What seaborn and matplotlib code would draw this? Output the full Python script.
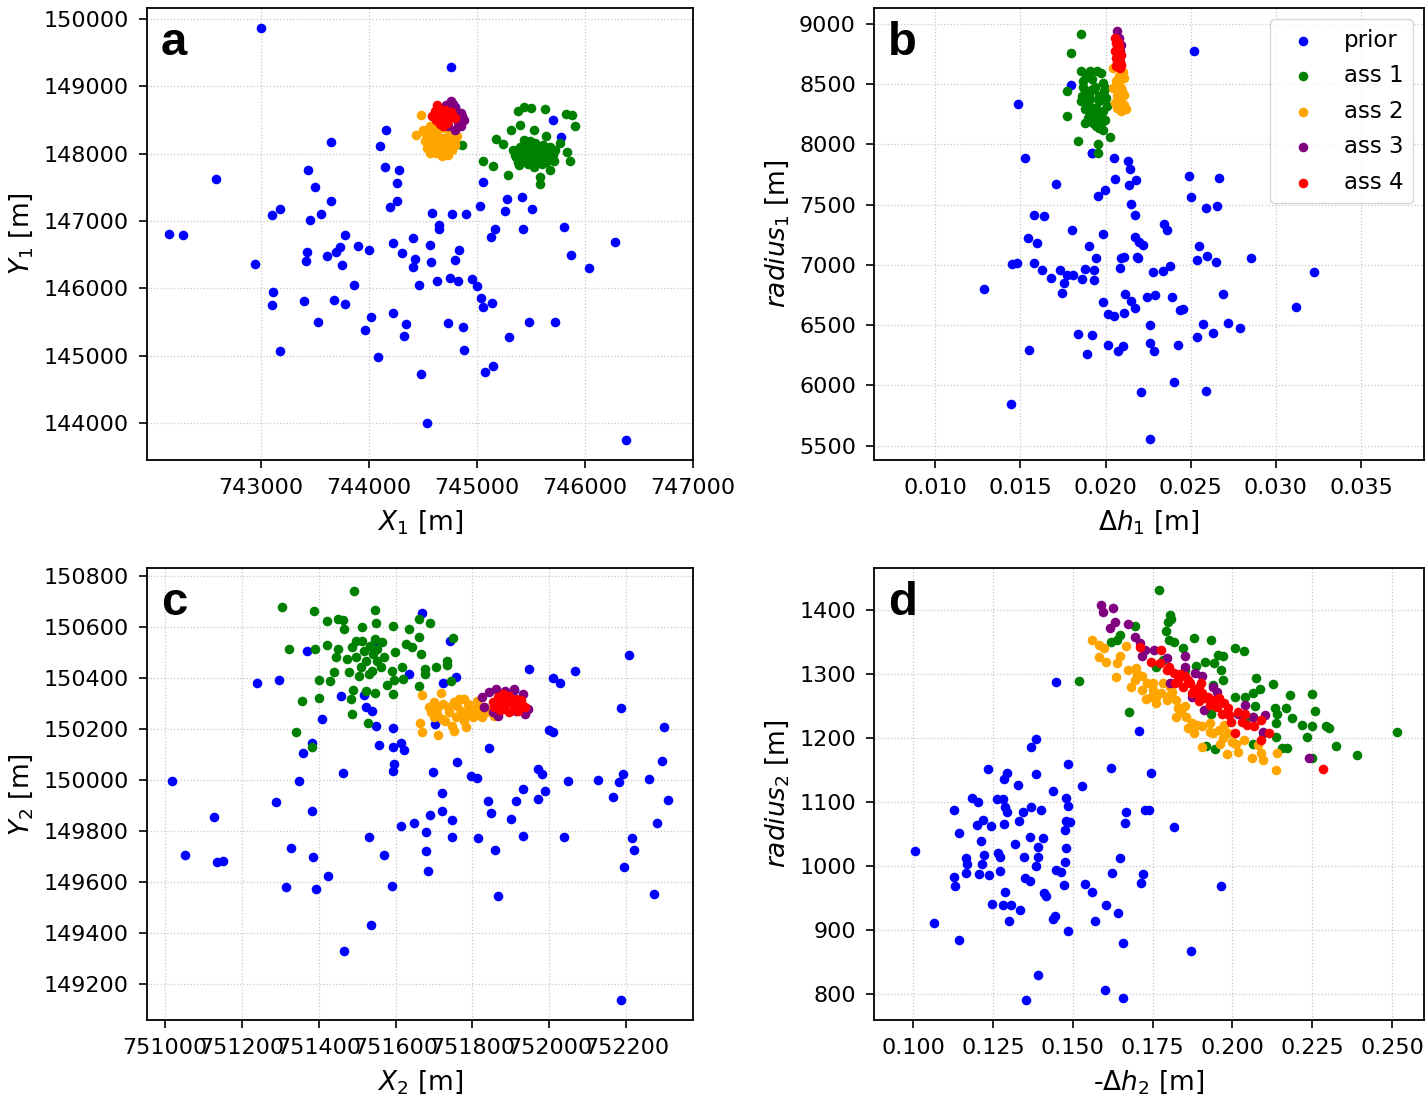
import matplotlib
matplotlib.use("Agg")
import matplotlib.pyplot as plt
import matplotlib.ticker as mticker
import seaborn as sns

# ---- data (x, y) ----
series_names = ['prior', 'ass 1', 'ass 2', 'ass 3', 'ass 4']
series_colors = ['blue', 'green', 'orange', 'purple', 'red']

# panel a : X1 / Y1
a_prior = [
    (743000, 149862), (744762, 149278), (742584, 147617), (742152, 146812), (742274, 146787),
    (742941, 146357), (743099, 147093), (743175, 147173), (743112, 145951), (743106, 145754),
    (743175, 145077), (743439, 147751), (743502, 147509), (743644, 147296), (743650, 148176),
    (743554, 147108), (743455, 147019), (743782, 146792), (743733, 146609), (743693, 146540),
    (743611, 146476), (743422, 146540), (743416, 146406), (743749, 146352), (743898, 146634),
    (743997, 146564), (743865, 146050), (743399, 145808), (743677, 145828), (743776, 145774),
    (743525, 145502), (744020, 145571), (743964, 145383), (744083, 144978), (744158, 148354),
    (744099, 148117), (744152, 147800), (744281, 147751), (744261, 147563), (744261, 147296),
    (744198, 147207), (744224, 146678), (744304, 146530), (744409, 146743), (744422, 146441),
    (744409, 146322), (744459, 146050), (744561, 146639), (744578, 146396), (744584, 147118),
    (744650, 146935), (744650, 146880), (744769, 147103), (744898, 147108), (744832, 146569),
    (744795, 146416), (744634, 146110), (744752, 146159), (744828, 146105), (744957, 146134),
    (744997, 146040), (745033, 145863), (745056, 145729), (745135, 145778), (744221, 145640),
    (744340, 145477), (744323, 145299), (744729, 145492), (744871, 145423), (744884, 145086),
    (744482, 144731), (744541, 144009), (745076, 144755), (745145, 144844), (745300, 145284),
    (745485, 145502), (745726, 145502), (746040, 146302), (746277, 146693), (745871, 146500),
    (745805, 146910), (745426, 146886), (745132, 146762), (745168, 146881), (745261, 147152),
    (745281, 147330), (745416, 147350), (745512, 147173), (745026, 147227), (745056, 147573),
    (745706, 148502), (745779, 148245), (746383, 143752), (744792, 148685),
]
a_ass1 = [
    (745380, 148626), (745439, 148690), (745502, 148675), (745627, 148665), (745822, 148591),
    (745878, 148566), (745904, 148413), (745399, 148428), (745314, 148349), (745531, 148349),
    (745178, 148210), (745244, 148141), (745640, 148260), (745769, 148161), (745832, 148028),
    (745861, 147884), (745716, 147894), (745677, 147761), (745581, 147652), (745584, 147548),
    (745287, 147687), (745145, 147815), (745056, 147894), (744865, 148122),
    (745330, 148050), (745360, 147950), (745400, 148100), (745420, 147900), (745440, 148200),
    (745450, 148000), (745470, 147850), (745480, 148120), (745500, 147950), (745510, 148050),
    (745530, 147800), (745540, 148150), (745560, 147900), (745570, 148000), (745590, 148080),
    (745600, 147850), (745620, 147950), (745640, 148030), (745660, 147900), (745680, 148100),
    (745700, 147980), (745720, 148050), (745380, 147880), (745420, 148020), (745460, 147950),
    (745490, 148180), (745520, 147880), (745550, 148060), (745580, 147940), (745610, 148120),
    (745650, 148000), (745350, 147980), (745390, 147830), (745430, 148080), (745470, 148050),
    (745520, 148000), (745560, 147970), (745600, 148020), (745640, 147880), (745690, 147920),
]
a_ass2 = [
    (744485, 148576), (744436, 148270), (744677, 147958), (744535, 148082), (744502, 148354),
    (744568, 148403), (744634, 148329), (744700, 148379), (744766, 148305), (744815, 148255),
    (744551, 148230), (744617, 148181), (744683, 148230), (744749, 148156), (744799, 148132),
    (744584, 148082), (744650, 148057), (744716, 148082), (744766, 148057), (744617, 148008),
    (744683, 148008), (744568, 148008), (744518, 148181), (744733, 147983), (744799, 148206),
    (744601, 148305), (744560, 148130), (744640, 148250), (744700, 148130), (744760, 148200),
    (744600, 148380), (744520, 148300), (744660, 148100), (744740, 148260),
]
a_ass3 = [
    (744759, 148774), (744716, 148725), (744799, 148675), (744848, 148601), (744881, 148502),
    (744848, 148403), (744799, 148354), (744733, 148403), (744766, 148552), (744683, 148675),
    (744820, 148450), (744860, 148560), (744740, 148700), (744780, 148730),
]
a_ass4 = [
    (744634, 148725), (744607, 148626), (744584, 148552), (744667, 148651), (744716, 148601),
    (744766, 148576), (744799, 148527), (744733, 148502), (744667, 148478), (744617, 148502),
    (744683, 148403), (744700, 148552), (744650, 148576), (744640, 148620), (744690, 148520),
    (744740, 148540), (744700, 148640), (744620, 148560), (744660, 148440), (744720, 148460),
    (744760, 148620),
]

# panel b : dh1 / radius1
b_prior = [
    (0.02520, 8779), (0.01486, 8337), (0.01797, 8497), (0.01528, 7890), (0.01708, 7671),
    (0.01920, 7926), (0.02050, 7890), (0.02132, 7862), (0.02144, 7796), (0.02058, 7716),
    (0.02136, 7663), (0.02180, 7707), (0.01994, 7625), (0.01958, 7569), (0.02151, 7503),
    (0.02172, 7412), (0.02492, 7738), (0.02503, 7567), (0.02666, 7721), (0.02591, 7475),
    (0.02654, 7486), (0.01581, 7415), (0.01639, 7406), (0.01801, 7290), (0.01983, 7260),
    (0.01543, 7221), (0.01595, 7183), (0.01905, 7155), (0.01945, 7056), (0.02172, 7232),
    (0.02197, 7194), (0.02220, 7166), (0.02092, 7061), (0.02107, 7067), (0.02186, 7067),
    (0.02188, 7056), (0.02344, 7343), (0.02360, 7288), (0.02549, 7155), (0.02534, 7039),
    (0.02597, 7078), (0.02650, 7022), (0.02853, 7061), (0.03226, 6945), (0.01453, 7011),
    (0.01482, 7017), (0.01579, 7017), (0.01627, 6962), (0.01734, 6962), (0.01677, 6893),
    (0.01771, 6915), (0.01807, 6917), (0.01755, 6854), (0.01859, 6882), (0.01880, 6970),
    (0.01929, 6956), (0.01931, 6873), (0.02082, 6973), (0.02277, 6945), (0.02335, 6951),
    (0.02377, 6995), (0.01285, 6799), (0.01742, 6771), (0.01983, 6691), (0.02111, 6763),
    (0.02151, 6697), (0.02172, 6641), (0.02012, 6589), (0.02050, 6578), (0.02109, 6600),
    (0.02241, 6738), (0.02291, 6749), (0.02392, 6738), (0.02436, 6625), (0.02457, 6633),
    (0.02691, 6763), (0.03119, 6652), (0.01836, 6431), (0.01920, 6420), (0.01549, 6296),
    (0.01893, 6260), (0.02017, 6340), (0.02071, 6285), (0.02105, 6324), (0.02258, 6503),
    (0.02258, 6351), (0.02287, 6288), (0.02427, 6340), (0.02574, 6514), (0.02536, 6404),
    (0.02633, 6437), (0.02721, 6522), (0.02788, 6478), (0.01444, 5843), (0.02207, 5945),
    (0.02400, 6028), (0.02587, 5954), (0.02258, 5556), (0.01920, 7926),
]
b_ass1 = [
    (0.01857, 8917), (0.01799, 8760), (0.01773, 8442), (0.01776, 8240), (0.01840, 8028),
    (0.01956, 8000), (0.01956, 7926), (0.02025, 8061), (0.01857, 8608), (0.01910, 8608),
    (0.01952, 8613), (0.01973, 8594), (0.01868, 8525), (0.01920, 8539), (0.01983, 8511),
    (0.01878, 8442), (0.01931, 8456), (0.01994, 8470), (0.01857, 8359), (0.01910, 8373),
    (0.01962, 8359), (0.02004, 8387), (0.01878, 8290), (0.01931, 8304), (0.01983, 8276),
    (0.01899, 8221), (0.01952, 8235), (0.01994, 8207), (0.01962, 8138), (0.01983, 8124),
    (0.01941, 8152), (0.01973, 8180), (0.01895, 8331), (0.02006, 8318), (0.01885, 8560),
    (0.01940, 8480), (0.01900, 8420), (0.01960, 8400), (0.01920, 8260), (0.01880, 8180),
    (0.01870, 8480), (0.01915, 8450), (0.01990, 8440), (0.01905, 8280), (0.01945, 8300),
    (0.01975, 8240), (0.01925, 8180), (0.01860, 8400),
]
b_ass2 = [
    (0.02046, 8635), (0.02088, 8663), (0.02109, 8553), (0.02077, 8497), (0.02046, 8470),
    (0.02098, 8442), (0.02067, 8401), (0.02088, 8359), (0.02109, 8331), (0.02067, 8304),
    (0.02119, 8290), (0.02088, 8276), (0.02056, 8345), (0.02109, 8414), (0.02077, 8566),
    (0.02100, 8600), (0.02060, 8530), (0.02090, 8470),
]
b_ass3 = [
    (0.02067, 8945), (0.02077, 8884), (0.02088, 8829), (0.02084, 8774),
]
b_ass4 = [
    (0.02056, 8884), (0.02063, 8843), (0.02067, 8801), (0.02071, 8760), (0.02077, 8718),
    (0.02067, 8677), (0.02082, 8635), (0.02088, 8746), (0.02056, 8774), (0.02073, 8829),
    (0.02088, 8663), (0.02063, 8718), (0.02070, 8850), (0.02080, 8790), (0.02075, 8700),
    (0.02060, 8650), (0.02085, 8690), (0.02078, 8810),
]

# panel c : X2 / Y2
c_prior = [
    (751018, 149996), (751054, 149706), (751129, 149858), (751136, 149680), (751152, 149684),
    (751241, 150380), (751296, 150393), (751290, 149916), (751328, 149735), (751315, 149581),
    (751369, 150508), (751349, 149996), (751360, 150107), (751382, 150146), (751382, 149879),
    (751386, 149698), (751394, 149575), (751410, 150241), (751424, 149624), (751459, 150332),
    (751463, 150030), (751467, 149330), (751518, 150333), (751522, 150286), (751538, 150273),
    (751530, 149777), (751537, 149432), (751550, 150212), (751557, 150139), (751544, 150535),
    (751571, 149707), (751594, 150204), (751594, 150129), (751614, 150148), (751623, 150119),
    (751597, 150064), (751594, 150035), (751592, 149586), (751614, 149820), (751635, 150417),
    (751647, 149831), (751668, 150655), (751678, 149796), (751678, 149724), (751685, 149646),
    (751690, 149863), (751698, 150033), (751702, 150221), (751720, 149952), (751722, 149881),
    (751723, 150382), (751741, 150548), (751746, 149779), (751748, 149845), (751757, 150407),
    (751760, 150072), (751797, 150016), (751811, 150011), (751814, 149775), (751841, 149918),
    (751842, 150128), (751848, 149873), (751859, 149727), (751867, 149548), (751901, 149847),
    (751913, 149918), (751930, 149965), (751930, 149782), (751908, 150356), (751948, 150437),
    (751969, 150046), (751981, 150025), (751969, 149926), (751988, 149957), (752000, 150197),
    (752009, 150188), (752009, 150401), (752028, 150383), (752037, 149778), (752048, 149997),
    (752067, 150429), (752126, 150003), (752164, 149935), (752180, 149994), (752191, 150024),
    (752187, 150285), (752206, 150493), (752215, 149775), (752220, 149726), (752193, 149659),
    (752260, 150004), (752280, 149834), (752293, 150076), (752298, 150211), (752309, 149922),
    (752272, 149556), (752186, 149139),
]
c_ass1 = [
    (751493, 150741), (751305, 150681), (751387, 150665), (751546, 150668), (751423, 150626),
    (751450, 150633), (751464, 150629), (751690, 150616), (751660, 150633), (751594, 150607),
    (751636, 150593), (751466, 150593), (751514, 150603), (751548, 150616), (751750, 150558),
    (751661, 150563), (751323, 150515), (751391, 150516), (751422, 150532), (751450, 150515),
    (751626, 150535), (751643, 150524), (751666, 150495), (751599, 150502), (751444, 150482),
    (751473, 150476), (751496, 150482), (751735, 150469), (751735, 150451), (751706, 150446),
    (751677, 150437), (751677, 150417), (751616, 150443), (751590, 150430), (751441, 150424),
    (751479, 150426), (751505, 150410), (751532, 150417), (751620, 150397), (751595, 150393),
    (751744, 150391), (751661, 150371), (751577, 150375), (751402, 150393), (751429, 150391),
    (751489, 150354), (751522, 150352), (751546, 150341), (751594, 150339), (751402, 150325),
    (751357, 150310), (751484, 150319), (751486, 150260), (751528, 150225), (751341, 150188),
    (751384, 150129), (751514, 150548), (751533, 150528), (751551, 150515), (751565, 150541),
    (751542, 150495), (751524, 150469), (751510, 150443), (751496, 150548), (751487, 150522),
    (751551, 150469), (751561, 150443), (751538, 150430), (751519, 150508), (751570, 150482),
    (751547, 150554),
]
c_ass2 = [
    (751670, 150336), (751719, 150344), (751663, 150226), (751668, 150188), (751711, 150179),
    (751751, 150195), (751783, 150208), (751700, 150306), (751686, 150286), (751709, 150260),
    (751737, 150286), (751765, 150319), (751788, 150299), (751811, 150286), (751834, 150267),
    (751857, 150254), (751728, 150234), (751756, 150247), (751779, 150234), (751802, 150247),
    (751700, 150247), (751746, 150215), (751769, 150273), (751797, 150267), (751825, 150247),
    (751723, 150299), (751751, 150306), (751779, 150319), (751811, 150312), (751830, 150286),
    (751709, 150280), (751691, 150267), (751740, 150270), (751760, 150290), (751790, 150280),
    (751820, 150270), (751720, 150240), (751780, 150250), (751845, 150275),
]
c_ass3 = [
    (751825, 150326), (751843, 150345), (751862, 150358), (751885, 150352), (751908, 150358),
    (751931, 150339), (751945, 150280), (751936, 150260), (751913, 150273), (751867, 150254),
    (751829, 150286), (751853, 150267),
]
c_ass4 = [
    (751853, 150306), (751867, 150326), (751880, 150339), (751894, 150332), (751913, 150319),
    (751927, 150306), (751936, 150286), (751918, 150273), (751894, 150267), (751871, 150276),
    (751857, 150286), (751885, 150299), (751904, 150299), (751922, 150293), (751875, 150315),
    (751900, 150315), (751925, 150315), (751880, 150280), (751910, 150282), (751865, 150300),
]

# panel d : -dh2 / radius2
d_prior = [
    (0.10045, 1024), (0.10660, 912), (0.11443, 885), (0.11286, 1087), (0.11432, 1051),
    (0.11275, 983), (0.11320, 969), (0.11644, 1013), (0.11678, 1003), (0.11656, 989),
    (0.11846, 1106), (0.12013, 1100), (0.11991, 1064), (0.12192, 1072), (0.12427, 1063),
    (0.12114, 1039), (0.12215, 1017), (0.12148, 1004), (0.12047, 988), (0.12360, 986),
    (0.12327, 1152), (0.12830, 1136), (0.12931, 1146), (0.13266, 1127), (0.12629, 1104),
    (0.12819, 1104), (0.12886, 1093), (0.12920, 1085), (0.12841, 1066), (0.13300, 1071),
    (0.13434, 1084), (0.12651, 1020), (0.12707, 1014), (0.13188, 1034), (0.12707, 993),
    (0.12886, 959), (0.13468, 1014), (0.12461, 941), (0.12819, 940), (0.13076, 940),
    (0.13334, 932), (0.13009, 914), (0.13501, 981), (0.13658, 977), (0.13647, 1045),
    (0.13703, 1093), (0.13859, 1144), (0.13848, 1199), (0.13691, 1186), (0.14005, 1088),
    (0.14072, 1044), (0.13915, 1030), (0.13904, 1015), (0.13859, 1000), (0.14105, 958),
    (0.14150, 954), (0.13915, 830), (0.13546, 791), (0.14385, 1117), (0.14463, 1287),
    (0.14788, 1107), (0.14833, 1094), (0.14788, 1071), (0.14922, 1069), (0.14754, 1057),
    (0.14788, 1028), (0.14754, 1006), (0.14474, 994), (0.14642, 991), (0.14731, 970),
    (0.14441, 922), (0.14385, 918), (0.14844, 899), (0.14855, 1159), (0.15280, 1125),
    (0.15381, 972), (0.15593, 959), (0.15705, 914), (0.16040, 939), (0.16398, 927),
    (0.16466, 1013), (0.16219, 989), (0.16208, 1153), (0.16667, 1084), (0.16633, 1067),
    (0.16577, 880), (0.16018, 807), (0.16566, 794), (0.17126, 974), (0.17193, 988),
    (0.17249, 1088), (0.17372, 1088), (0.17439, 1145), (0.17070, 1211), (0.18166, 1061),
    (0.18703, 867), (0.19631, 969),
]
d_ass1 = [
    (0.17696, 1431), (0.18032, 1392), (0.17964, 1380), (0.18088, 1385), (0.17920, 1366),
    (0.17998, 1353), (0.18166, 1350), (0.16935, 1374), (0.16488, 1361), (0.16376, 1353),
    (0.16208, 1350), (0.18434, 1340), (0.18792, 1356), (0.19318, 1353), (0.20067, 1340),
    (0.20347, 1335), (0.19542, 1330), (0.19710, 1327), (0.19430, 1317), (0.19150, 1319),
    (0.18870, 1312), (0.19654, 1306), (0.19710, 1291), (0.19374, 1283), (0.15201, 1289),
    (0.16757, 1240), (0.20739, 1293), (0.21276, 1284), (0.20873, 1276), (0.20627, 1270),
    (0.20381, 1264), (0.20067, 1264), (0.21802, 1267), (0.22484, 1268), (0.22585, 1242),
    (0.20716, 1249), (0.21320, 1247), (0.21689, 1246), (0.21410, 1238), (0.21354, 1223),
    (0.21857, 1231), (0.22193, 1220), (0.22495, 1218), (0.22327, 1201), (0.22920, 1219),
    (0.23032, 1215), (0.23256, 1187), (0.23905, 1173), (0.25157, 1209), (0.21365, 1202),
    (0.21555, 1184), (0.21701, 1185), (0.20627, 1191), (0.19172, 1187), (0.19452, 1182),
    (0.22506, 1168), (0.20962, 1207), (0.20627, 1233), (0.20403, 1228), (0.19340, 1238),
    (0.17607, 1311), (0.17830, 1322), (0.18501, 1306),
]
d_ass2 = [
    (0.15593, 1353), (0.15817, 1345), (0.15985, 1340), (0.15817, 1326), (0.16040, 1319),
    (0.16376, 1317), (0.16354, 1295), (0.16656, 1343), (0.16488, 1327), (0.16712, 1306),
    (0.16992, 1309), (0.16935, 1291), (0.17159, 1296), (0.17327, 1285), (0.17159, 1275),
    (0.17495, 1275), (0.17439, 1264), (0.17607, 1254), (0.17774, 1270), (0.17942, 1259),
    (0.18110, 1272), (0.18222, 1259), (0.18278, 1246), (0.18222, 1233), (0.18501, 1249),
    (0.18557, 1233), (0.18725, 1223), (0.18781, 1207), (0.19060, 1218), (0.19284, 1223),
    (0.19396, 1207), (0.19564, 1212), (0.19732, 1220), (0.19844, 1207), (0.19060, 1186),
    (0.19598, 1191), (0.19822, 1175), (0.19989, 1194), (0.20179, 1178), (0.20347, 1197),
    (0.20604, 1168), (0.20794, 1189), (0.20884, 1176), (0.20962, 1165), (0.21410, 1176),
    (0.21354, 1150), (0.17830, 1285), (0.18054, 1280), (0.17607, 1264), (0.16824, 1280),
    (0.17000, 1300), (0.17500, 1285), (0.18000, 1265), (0.18400, 1240), (0.18900, 1220),
    (0.19300, 1210), (0.19700, 1200), (0.20100, 1190), (0.17300, 1260), (0.18600, 1215),
]
d_ass3 = [
    (0.15873, 1408), (0.15951, 1397), (0.16242, 1403), (0.16152, 1371), (0.16320, 1380),
    (0.16712, 1377), (0.16935, 1358), (0.17103, 1348), (0.17271, 1337), (0.17159, 1327),
    (0.17551, 1337), (0.17942, 1324), (0.18501, 1327), (0.18054, 1285), (0.18501, 1311),
    (0.18837, 1301), (0.19060, 1296), (0.19396, 1280), (0.19508, 1272), (0.19116, 1244),
    (0.20403, 1251), (0.20627, 1233), (0.21018, 1236), (0.20962, 1210), (0.22395, 1169),
    (0.18725, 1264), (0.20179, 1238),
]
d_ass4 = [
    (0.17115, 1342), (0.17774, 1337), (0.17439, 1319), (0.17718, 1317), (0.17942, 1306),
    (0.18166, 1301), (0.18278, 1291), (0.18501, 1296), (0.18445, 1280), (0.18669, 1285),
    (0.18781, 1275), (0.18949, 1280), (0.19060, 1270), (0.19228, 1264), (0.19396, 1259),
    (0.18949, 1257), (0.19284, 1251), (0.19564, 1262), (0.19732, 1254), (0.19844, 1246),
    (0.19676, 1238), (0.19956, 1225), (0.20179, 1241), (0.20403, 1238), (0.20459, 1220),
    (0.20682, 1218), (0.20906, 1228), (0.21130, 1207), (0.20906, 1197), (0.22842, 1151),
    (0.20067, 1207), (0.18725, 1270), (0.18000, 1310), (0.18350, 1300), (0.18600, 1290),
    (0.18850, 1270), (0.19150, 1262), (0.19500, 1248), (0.19900, 1235), (0.20300, 1225),
    (0.18200, 1285), (0.19000, 1285),
]

# tick values for panel a
a_xticks = [743000, 744000, 745000, 746000, 747000]

# ---- style ----
sns.set_style("whitegrid", {
    "grid.linestyle": ":", "grid.color": "#c8c8c8",
    "axes.edgecolor": "black", "axes.linewidth": 1.3,
    "xtick.bottom": True, "ytick.left": True,
    "text.color": "black", "axes.labelcolor": "black",
    "xtick.color": "black", "ytick.color": "black",
})
plt.rcParams['font.family'] = ['DejaVu Sans']

fig = plt.figure(figsize=(14.27, 10.98), dpi=100)

panels = [
    ('a', [a_prior, a_ass1, a_ass2, a_ass3, a_ass4], r'$X_1$ [m]', r'$Y_1$ [m]',
     (741944, 747000), (143455, 150160), 1000, 1000, [0.1030, 0.5811, 0.3826, 0.4117]),
    ('b', [b_prior, b_ass1, b_ass2, b_ass3, b_ass4], r'$\Delta h_1$ [m]', r'$radius_1$ [m]',
     (0.0064, 0.0387), (5382, 9133), 0.005, 500, [0.6125, 0.5811, 0.3854, 0.4117]),
    ('c', [c_prior, c_ass1, c_ass2, c_ass3, c_ass4], r'$X_2$ [m]', r'$Y_2$ [m]',
     (750954, 752373), (149060, 150833), 200, 200, [0.1030, 0.0710, 0.3826, 0.4117]),
    ('d', [d_prior, d_ass1, d_ass2, d_ass3, d_ass4], r'-$\Delta h_2$ [m]', r'$radius_2$ [m]',
     (0.0877, 0.2600), (760, 1465), 0.025, 100, [0.6125, 0.0710, 0.3854, 0.4117]),
]

for letter, sets, xlab, ylab, xlim, ylim, xstep, ystep, rect in panels:
    ax = fig.add_axes(rect)
    for pts, name, col in zip(sets, series_names, series_colors):
        xs = [p[0] for p in pts]
        ys = [p[1] for p in pts]
        sns.scatterplot(x=xs, y=ys, color=col, s=48, linewidth=0, label=name,
                        ax=ax, legend=False, zorder=3)
    ax.set_xlim(*xlim)
    ax.set_ylim(*ylim)
    if letter == 'a':
        ax.set_xticks(a_xticks)
    else:
        ax.xaxis.set_major_locator(mticker.MultipleLocator(xstep))
    ax.yaxis.set_major_locator(mticker.MultipleLocator(ystep))
    ax.ticklabel_format(useOffset=False, style='plain')
    ax.grid(True, linestyle=':', color='#c8c8c8', linewidth=0.9)
    ax.tick_params(axis='both', labelsize=16, length=6, width=1.2, pad=7,
                   color='black', labelcolor='black', direction='out')
    ax.set_xlabel(xlab, fontsize=19, labelpad=7, color='black')
    ax.set_ylabel(ylab, fontsize=19, labelpad=6, color='black')
    for sp in ax.spines.values():
        sp.set_color('black')
        sp.set_linewidth(1.3)
    ax.text(0.025, 0.895, letter, transform=ax.transAxes, fontsize=34, color='black',
            fontweight='bold', family='Liberation Sans', va='baseline', ha='left')
    if letter == 'b':
        leg = ax.legend(loc='upper right', fontsize=16.5, labelspacing=0.55)
        for t in leg.get_texts():
            t.set_color('black')

fig.savefig('out.png', dpi=100)
